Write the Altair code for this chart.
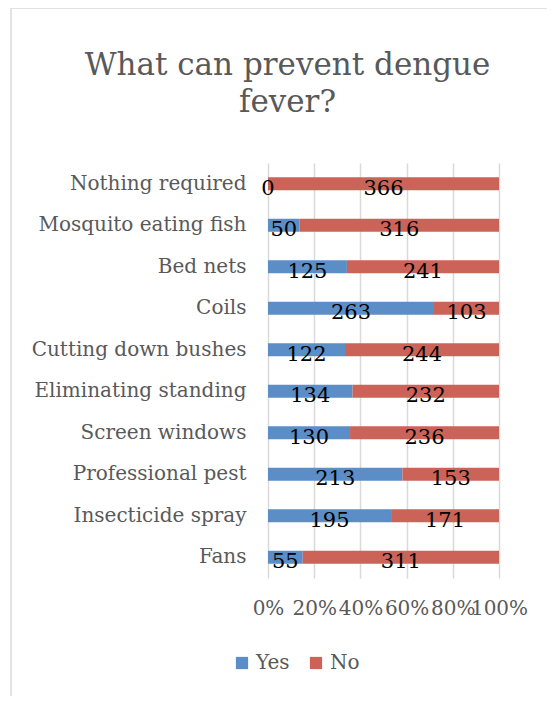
import altair as alt
import pandas as pd

categories = ["Nothing required", "Mosquito eating fish", "Bed nets", "Coils",
              "Cutting down bushes", "Eliminating standing", "Screen windows",
              "Professional pest", "Insecticide spray", "Fans"]
yes_vals = [0, 50, 125, 263, 122, 134, 130, 213, 195, 55]
no_vals = [366, 316, 241, 103, 244, 232, 236, 153, 171, 311]
series = ["Yes", "No"]
colors = ["#5B8DC6", "#CB6359"]
x_ticks = [0, 0.2, 0.4, 0.6, 0.8, 1.0]

rows = []
for c, y, n in zip(categories, yes_vals, no_vals):
    tot = y + n
    rows.append({"cat": c, "series": "Yes", "order": 0, "val": y,
                 "start": 0.0, "end": y / tot, "mid": y / tot / 2})
    rows.append({"cat": c, "series": "No", "order": 1, "val": n,
                 "start": y / tot, "end": 1.0, "mid": (y / tot + 1.0) / 2})
df = pd.DataFrame(rows)

FONT = "DejaVu Serif"
GRAY = "#595959"

ysc = alt.Y("cat:N", sort=categories, title=None,
            axis=alt.Axis(domain=False, ticks=False, labelPadding=22, labelLimit=400,
                          labelFontSize=20, labelColor=GRAY, labelFont=FONT))

bars = alt.Chart(df).mark_bar(size=13).encode(
    y=ysc,
    x=alt.X("start:Q", scale=alt.Scale(domain=[0, 1], nice=False), title=None,
            axis=alt.Axis(values=x_ticks, format=".0%", domain=False, ticks=False,
                          labelPadding=20, labelFontSize=20, labelColor=GRAY,
                          labelFont=FONT, grid=True, gridColor="#d9d9d9",
                          gridWidth=1.5, labelFlush=False, labelOverlap=False)),
    x2="end:Q",
    color=alt.Color("series:N", sort=series,
                    scale=alt.Scale(domain=series, range=colors),
                    legend=alt.Legend(title=None, orient="none", direction="horizontal",
                                      legendX=-36, legendY=490, symbolType="square",
                                      symbolSize=150, symbolStrokeWidth=0,
                                      labelFontSize=20, labelColor=GRAY,
                                      labelFont=FONT, columnPadding=16,
                                      labelOffset=4)),
)

labels = alt.Chart(df).mark_text(fontSize=21, font=FONT, color="black",
                                 baseline="middle", dy=5).encode(
    y=alt.Y("cat:N", sort=categories),
    x=alt.X("mid:Q"),
    text="val:Q",
)

frame = alt.Chart(pd.DataFrame({"a": [0]})).mark_rect(
    fill=None, stroke="#d9d9d9", strokeWidth=1.5).encode(
    x=alt.value(-257), x2=alt.value(300), y=alt.value(-155), y2=alt.value(560))

chart = alt.layer(frame, bars, labels).properties(
    width=231, height=415,
    title=alt.TitleParams(["What can prevent dengue", "fever?"], fontSize=31,
                          font=FONT, color=GRAY, fontWeight="normal",
                          anchor="middle", frame="group", dx=-96, offset=-112,
                          lineHeight=37),
    autosize=alt.AutoSizeParams(type="none"),
    padding={"left": 260, "top": 155, "right": 48, "bottom": 118},
).configure_view(stroke=None)

chart.save("out.html", embed_options={"renderer": "svg", "actions": False})
